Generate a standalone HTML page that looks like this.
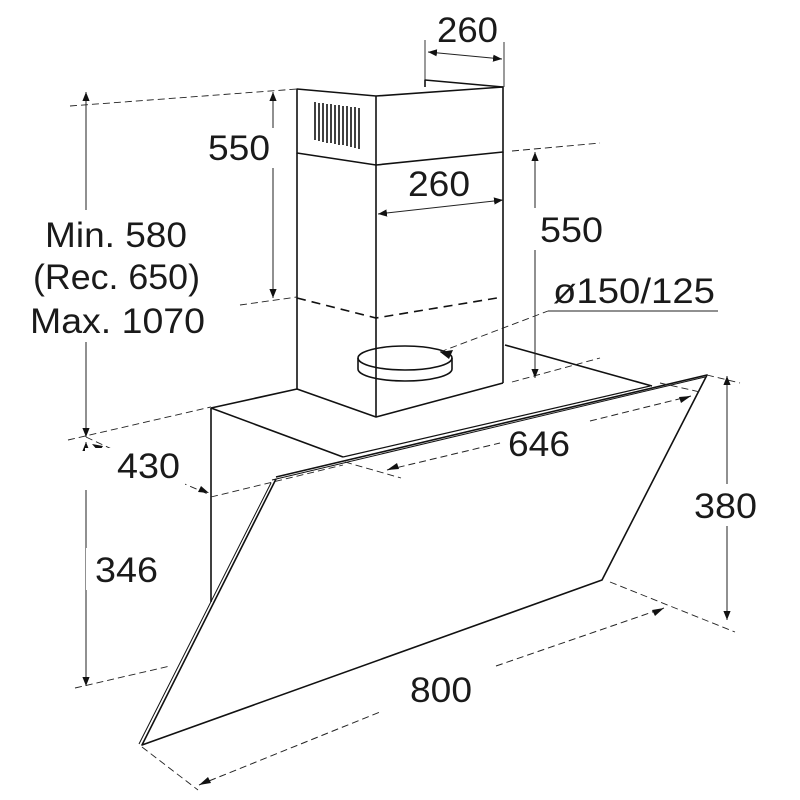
<!DOCTYPE html>
<html><head><meta charset="utf-8"><style>
html,body{margin:0;padding:0;background:#fff;}
svg{display:block;}
text{font-family:"Liberation Sans",Arial,sans-serif;font-size:35px;fill:#1a1a1a;}
</style></head><body>
<svg width="800" height="800" viewBox="0 0 800 800" xmlns="http://www.w3.org/2000/svg">
<defs>
<marker id="a" viewBox="0 0 10 10" refX="10" refY="5" markerWidth="9" markerHeight="9" orient="auto-start-reverse" markerUnits="userSpaceOnUse"><path d="M0,1 L10,5 L0,9 z" fill="#111"/></marker>
</defs>
<g fill="none" stroke="#111" stroke-width="1.6" stroke-linejoin="round">
<path d="M297,89 L376,96 L503,87 L503,152 L376,165 L297,153 Z"/>
<path d="M376,96 L376,165"/>
<path d="M425,87 L425,80 L503,87"/>
<path d="M297,153 L297,389 M376,165 L376,417 M503,152 L503,383"/>
<path d="M297,389 L376,417 L503,383"/>
<path d="M211,408 L297,389 M211,408 L343,457 M211,408 L211,602"/>
<path d="M505,345 L652,386"/>
<path d="M276,477 L707,375 L602,580 L142,745 L276,479"/>
<path d="M272,480 L705,377 M271,483 L139,744" stroke-width="1"/>
<path d="M343,457 L650,386" stroke-width="1.2"/>
<ellipse cx="405" cy="358" rx="47" ry="12"/>
<path d="M358,358 L358,369 A47,12 0 0 0 452,369 L452,358"/>
</g>
<g stroke="#111" stroke-width="1.6">
<path d="M315,102V140 M319,103V141 M323,103V142 M327,104V143 M331,104V143 M335,105V144 M339,105V145 M343,106V145 M347,106V146 M351,107V147 M355,107V148 M359,108V149"/>
</g>
<g fill="none" stroke="#111" stroke-width="1.6" stroke-dasharray="9,6">
<path d="M297,298 L376,318 L503,297"/>
</g>
<g fill="none" stroke="#222" stroke-width="0.9" stroke-dasharray="7,4">
<path d="M70,106 L297,89"/>
<path d="M240,305 L297,297"/>
<path d="M68,440 L211,407"/>
<path d="M211,497 L343,465"/>
<path d="M75,688 L170,666"/>
<path d="M512,151 L600,143"/>
<path d="M512,382 L600,358"/>
<path d="M345,462 L401,478"/>
<path d="M660,383 L700,392"/>
<path d="M707,375 L740,383"/>
<path d="M610,582 L735,632"/>
<path d="M142,747 L198,790"/>
<path d="M440,352 L548,311"/>
<path d="M180,482 L208,494"/>
<path d="M86,437 L118,452"/>
</g>
<g fill="none" stroke="#222" stroke-width="0.9">
<path d="M425,40 L425,80 M504,42 L504,87"/>
<path d="M548,311 L718,311"/>
</g>
<g fill="none" stroke="#222" stroke-width="1" marker-start="url(#a)" marker-end="url(#a)">
<path d="M428,52 L502,59"/>
<path d="M378,214 L503,200"/>
<path d="M86,92 L86,437"/>
<path d="M86,442 L86,686"/>
<path d="M273,92 L273,298"/>
<path d="M535,152 L535,378"/>
<path d="M727,376 L727,620"/>
</g>
<g fill="none" stroke="#222" stroke-width="1" stroke-dasharray="7,4">
<path d="M387,470 L500,443 M590,421 L691,396" />
<path d="M199,785 L380,712 M496,666 L664,608"/>
</g>
<g fill="#111">
<path d="M387,470 l10,-7 l2,6 z"/>
<path d="M691,396 l-10,7 l-2,-6 z"/>
<path d="M199,785 l9,-8 l3,6 z"/>
<path d="M664,608 l-9,8 l-3,-6 z"/>
<path d="M92,444 l11,2 l-4,6 z"/>
<path d="M209,493 l-11,-1 l3,-6 z"/>
<path d="M440,352 l13,-2 l-4,9 z"/>
</g>
<g fill="#fff">
<rect x="200" y="128" width="80" height="40"/>
<rect x="28" y="210" width="185" height="132"/>
<rect x="85" y="448" width="100" height="42"/>
<rect x="86" y="548" width="80" height="42"/>
<rect x="688" y="484" width="75" height="42"/>
<rect x="530" y="208" width="80" height="42"/>
</g>
<text x="208" y="160" textLength="62" lengthAdjust="spacingAndGlyphs">550</text>
<text x="45" y="247" textLength="142" lengthAdjust="spacingAndGlyphs">Min. 580</text>
<text x="33" y="289" textLength="167" lengthAdjust="spacingAndGlyphs">(Rec. 650)</text>
<text x="30" y="333" textLength="175" lengthAdjust="spacingAndGlyphs">Max. 1070</text>
<text x="437" y="42" textLength="61" lengthAdjust="spacingAndGlyphs">260</text>
<text x="408" y="196" textLength="62" lengthAdjust="spacingAndGlyphs">260</text>
<text x="540" y="242" textLength="63" lengthAdjust="spacingAndGlyphs">550</text>
<text x="553" y="303" textLength="162" lengthAdjust="spacingAndGlyphs">ø150/125</text>
<text x="508" y="456" textLength="62" lengthAdjust="spacingAndGlyphs">646</text>
<text x="117" y="478" textLength="63" lengthAdjust="spacingAndGlyphs">430</text>
<text x="95" y="582" textLength="63" lengthAdjust="spacingAndGlyphs">346</text>
<text x="694" y="518" textLength="63" lengthAdjust="spacingAndGlyphs">380</text>
<text x="410" y="702" textLength="62" lengthAdjust="spacingAndGlyphs">800</text>
</svg>
</body></html>
